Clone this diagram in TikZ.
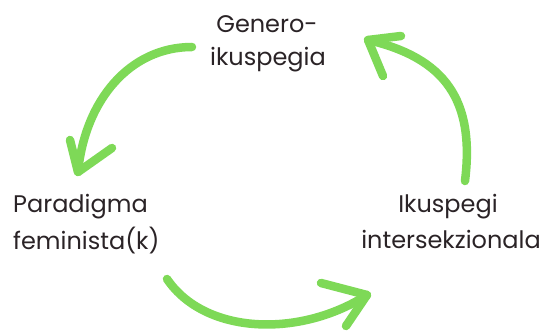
\documentclass[tikz,border=0pt]{standalone}
\usepackage{fontspec}
\setmainfont{Poppins}
\definecolor{arrowgreen}{HTML}{7ED957}
\definecolor{labeltext}{HTML}{2A2326}
\begin{document}
\begin{tikzpicture}[x=1pt,y=-1pt,
  lbl/.style={inner sep=0pt,anchor=base,text=labeltext,font=\fontsize{24}{28}\selectfont},
  lblL/.style={lbl,anchor=base west},
  shaft/.style={draw=arrowgreen,line width=8.5pt,line cap=round},
  barb/.style={draw=arrowgreen,line width=8.5pt,line cap=round,line join=round}]
\useasboundingbox (0,0) rectangle (542,331);
% labels
\node[lbl] (gen1) at (267,33) {Genero-};
\node[lbl] (gen2) at (268,66) {ikuspegia};
\node[lblL] (par1) at (13,213) {Paradigma};
\node[lblL] (par2) at (13,250) {feminista(k)};
\node[lbl] (iku1) at (448,213) {Ikuspegi};
\node[lbl] (iku2) at (451,249) {intersekzionala};
% arrow 1: Genero -> Paradigma
\coordinate (a1s) at (192,47);
\coordinate (a1t) at (78,172);
\coordinate (a1l) at (70,140);
\coordinate (a1r) at (112,148);
\draw[shaft] (a1s) .. controls (130,47) and (85,100) .. (a1t);
\draw[barb] (a1l) -- (a1t) -- (a1r);
% arrow 2: Paradigma -> Ikuspegi
\coordinate (a2s) at (167,279);
\coordinate (a2t) at (367,295);
\coordinate (a2u) at (321,283);
\coordinate (a2d) at (346,326);
\draw[shaft] (a2s) .. controls (205,335) and (300,338) .. (a2t);
\draw[barb] (a2u) -- (a2t) -- (a2d);
% arrow 3: Ikuspegi -> Genero
\coordinate (a3s) at (465,181);
\coordinate (a3t) at (368,40);
\coordinate (a3u) at (401,36);
\coordinate (a3d) at (383,76);
\draw[shaft] (a3s) .. controls (475,100) and (445,58) .. (a3t);
\draw[barb] (a3u) -- (a3t) -- (a3d);
\end{tikzpicture}
\end{document}
